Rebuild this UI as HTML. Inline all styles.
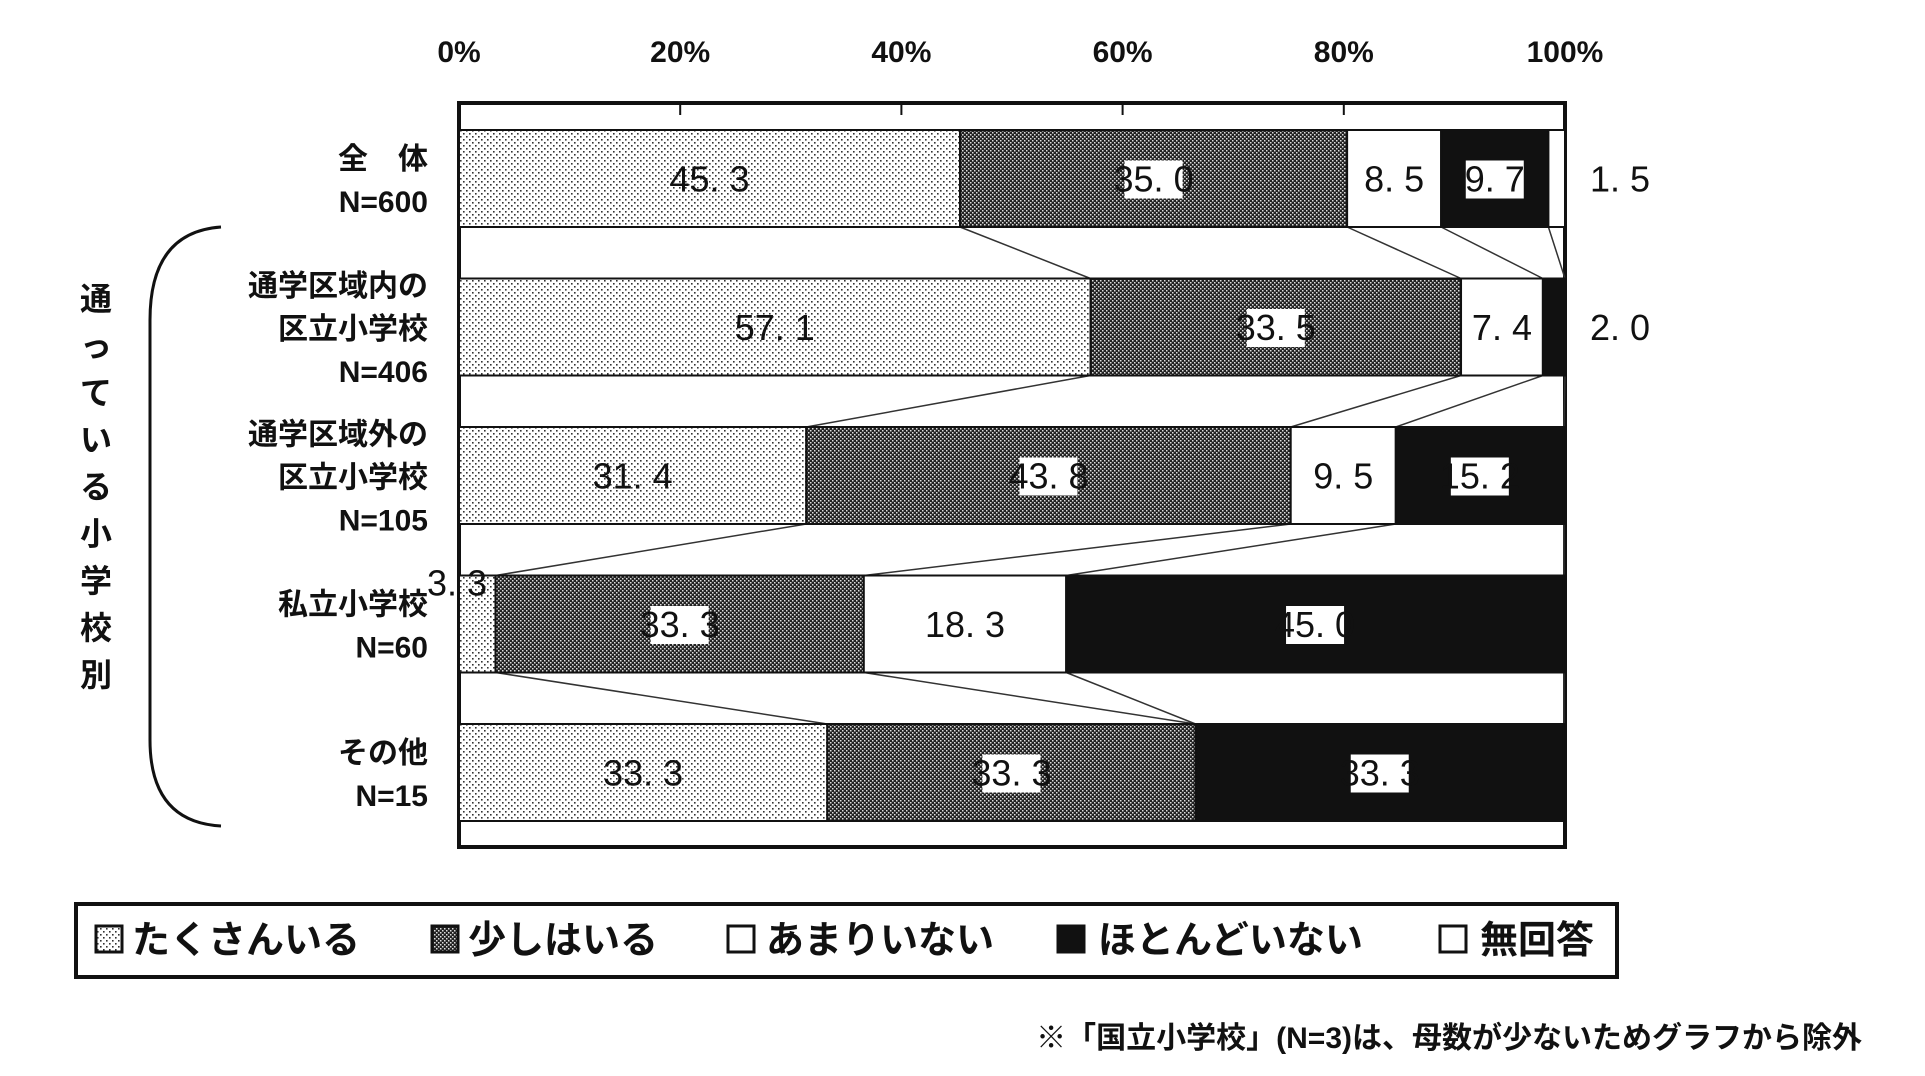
<!DOCTYPE html>
<html><head><meta charset="utf-8"><style>
body{margin:0;background:#fff}
svg{display:block}
text{font-family:"Liberation Sans Narrow","Liberation Sans","Noto Sans CJK JP",sans-serif;fill:#111}
.jp{font-family:"Liberation Sans","Noto Sans CJK JP",sans-serif;font-weight:bold}
</style></head><body>
<svg id="chart" width="1925" height="1076" viewBox="0 0 1925 1076">
<defs>
<pattern id="dots" width="6" height="6" patternUnits="userSpaceOnUse"><rect width="6" height="6" fill="#fff"/><rect x="1" y="1" width="1.6" height="1.6" fill="#333"/><rect x="4" y="4" width="1.6" height="1.6" fill="#333"/></pattern>
<pattern id="dense" width="4" height="4" patternUnits="userSpaceOnUse"><rect width="4" height="4" fill="#222"/><rect x="0" y="0" width="1.5" height="1.5" fill="#ddd"/><rect x="2" y="2" width="1.5" height="1.5" fill="#ddd"/></pattern>
</defs>
<g id="plot"></g>
<g>
<rect x="76" y="904" width="1541" height="73" fill="#fff" stroke="#111" stroke-width="4"/>
<rect x="96" y="926" width="26" height="26" fill="url(#dots)" stroke="#111" stroke-width="3"/>
<text class="jp" x="132" y="953" font-size="38">たくさんいる</text>
<rect x="432" y="926" width="26" height="26" fill="url(#dense)" stroke="#111" stroke-width="3"/>
<text class="jp" x="468" y="953" font-size="38">少しはいる</text>
<rect x="728" y="926" width="26" height="26" fill="#fff" stroke="#111" stroke-width="3"/>
<text class="jp" x="766" y="953" font-size="38">あまりいない</text>
<rect x="1058" y="926" width="26" height="26" fill="#111" stroke="#111" stroke-width="3"/>
<text class="jp" x="1098" y="953" font-size="38">ほとんどいない</text>
<rect x="1440" y="926" width="26" height="26" fill="#fff" stroke="#111" stroke-width="3"/>
<text class="jp" x="1480" y="953" font-size="38">無回答</text>
</g>
<text class="jp" x="1862" y="1048" font-size="30" text-anchor="end">※「国立小学校」(N=3)は、母数が少ないためグラフから除外</text>
<path d="M221 227 Q150 232 150 320 L150 740 Q150 822 221 826" fill="none" stroke="#111" stroke-width="3"/>
<g id="vlabel"></g>
</svg>
<script>
const categories=[["全　体","N=600"],["通学区域内の","区立小学校","N=406"],["通学区域外の","区立小学校","N=105"],["私立小学校","N=60"],["その他","N=15"]];
const many=[45.3,57.1,31.4,3.3,33.3];
const few=[35.0,33.5,43.8,33.3,33.3];
const notMany=[8.5,7.4,9.5,18.3,0];
const almostNone=[9.7,2.0,15.2,45.0,33.3];
const noAnswer=[1.5,0,0,0,0];
const ticks=["0%","20%","40%","60%","80%","100%"];
const NS="http://www.w3.org/2000/svg";
const svg=document.getElementById('chart'),g=document.getElementById('plot');
const X0=459,X1=1565,PT=103,PB=847;
const x=v=>X0+(X1-X0)*v/100;
const yTop=i=>130+i*148.5,BH=97;
function mk(t,a,p){const e=document.createElementNS(NS,t);for(const k in a)e.setAttribute(k,a[k]);(p||g).appendChild(e);return e;}
const frame=mk('rect',{x:X0,y:PT,width:X1-X0,height:PB-PT,fill:'#fff',stroke:'#111','stroke-width':4});


ticks.forEach((t,i)=>{const v=i*20;
 if(i>0&&i<5){const l=mk('line',{x1:x(v),x2:x(v),y1:PT,y2:PT+12,stroke:'#111','stroke-width':2});
 
 }
 const tx=mk('text',{x:x(v),y:62,'font-size':30,'font-weight':'bold','text-anchor':'middle'});tx.textContent=t;
 
 });
const series=[many,few,notMany,almostNone,noAnswer];
const fills=['url(#dots)','url(#dense)','#fff','#111','#fff'];
const names=['many','few','not-many','almost-none','no-answer'];
const cum=categories.map((c,i)=>{let s=0;const a=[0];series.forEach(sr=>{s+=sr[i];a.push(s);});return a;});
// connectors
for(let i=0;i<categories.length-1;i++){for(let k=1;k<=4;k++){const a=cum[i][k],b=cum[i+1][k];
 const l=mk('line',{x1:x(a),y1:yTop(i)+BH,x2:x(b),y2:yTop(i+1),stroke:'#333','stroke-width':1.5});
 
 }}
categories.forEach((c,i)=>{const y=yTop(i);
 series.forEach((sr,k)=>{const v=sr[i];if(v<=0)return;
  const r=mk('rect',{x:x(cum[i][k]),y:y,width:x(cum[i][k+1])-x(cum[i][k]),height:BH,fill:fills[k],stroke:'#111','stroke-width':2});
  
  
  const w=x(cum[i][k+1])-x(cum[i][k]);let tx,ty=y+BH/2+13,anchor='middle';
  if(w<40){ if(k==0){tx=x(cum[i][k])-2;ty=y+20;anchor='middle';} else {tx=x(100)+55;} }
  else tx=(x(cum[i][k])+x(cum[i][k+1]))/2;
  const lab=v.toFixed(1).replace('.','. ');
  if(w>=40&&(k==1||k==3)){const bg=mk('rect',{x:tx-29,y:ty-31,width:58,height:38,fill:'#fff'});
   
   }
  const t=mk('text',{x:tx,y:ty,'font-size':36,'text-anchor':anchor});t.textContent=lab;
  
  });
 const n=c.length,lh=43,start=y+BH/2-(n-1)*lh/2+12;
 c.forEach((s,j)=>{const t=mk('text',{x:428,y:start+j*lh,'font-size':30,'text-anchor':'end',class:'jp'});t.textContent=s;
  
  });});
const vg=document.getElementById('vlabel');
"通っている小学校別".split('').forEach((ch,i)=>{const t=mk('text',{x:96,y:310+i*47,'font-size':32,'text-anchor':'middle',class:'jp'},vg);t.textContent=ch;});
</script>
</body></html>
